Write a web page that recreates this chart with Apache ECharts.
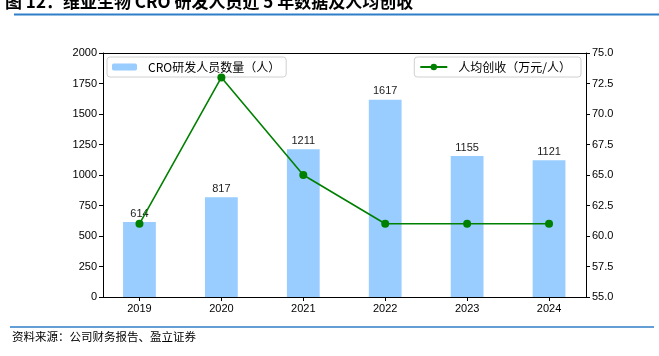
<!DOCTYPE html>
<html><head><meta charset="utf-8">
<script src="https://cdn.jsdelivr.net/npm/echarts@6/dist/echarts.min.js"></script>
<style>html,body{margin:0;padding:0;background:#fff;}#c{width:659px;height:356px;}</style>
</head><body><div id="c"></div>
<script>
const years = ['2019','2020','2021','2022','2023','2024'];
const staff = [614, 817, 1211, 1617, 1155, 1121];
const revenuePerCapita = [61.0, 73.0, 65.0, 61.0, 61.0, 61.0];
const leftTicks = {min: 0, max: 2000, interval: 250};
const rightTicks = {min: 55, max: 75, interval: 2.5};
const titleText = '图 12：维亚生物 CRO 研发人员近 5 年数据及人均创收';
const sourceText = '资料来源：公司财务报告、盈立证券';
const barName = 'CRO研发人员数量（人）';
const lineName = '人均创收（万元/人）';

const chart = echarts.init(document.getElementById('c'), null, {renderer: 'canvas'});
const cjk = '"Noto Sans CJK SC", "Liberation Sans", sans-serif';
const num = '"Liberation Sans", Arial, sans-serif';
const axisLine = {show: true, lineStyle: {color: '#000', width: 1}};
const frameGrid = {left: 103, right: 73, top: 53, bottom: 59};
const dataGrid = {left: 98.5, right: 69, top: 53, bottom: 59};

chart.setOption({
  animation: false,
  title: {text: titleText, left: 0, top: -12, textStyle: {fontFamily: cjk, fontSize: 17, fontWeight: 'bold', color: '#000'}},
  graphic: [
    {type: 'line', shape: {x1: 14, y1: 14.5, x2: 659, y2: 14.5}, style: {stroke: '#2F7FC8', lineWidth: 2}},
    {type: 'line', shape: {x1: 10, y1: 327, x2: 654, y2: 327}, style: {stroke: '#2F7FC8', lineWidth: 1.5}},
    {type: 'text', left: 12, top: 331, style: {text: sourceText, font: '11.5px "Noto Sans CJK SC"', fill: '#000'}}
  ],
  legend: [
    {data: [barName], left: 107, top: 57, padding: [4, 6, 4, 5], borderColor: '#d0d0d0', borderWidth: 1, borderRadius: 3,
     itemWidth: 25, itemHeight: 7, textStyle: {fontFamily: cjk, fontSize: 12, color: '#000', padding: [0, 0, 0, 6]}},
    {data: [lineName], right: 78, top: 57, padding: [4, 10, 4, 5], borderColor: '#d0d0d0', borderWidth: 1, borderRadius: 3,
     itemWidth: 27, itemHeight: 8, textStyle: {fontFamily: cjk, fontSize: 12, color: '#000', padding: [0, 0, 0, 6]}}
  ],
  grid: [frameGrid, dataGrid],
  xAxis: [
    {gridIndex: 0, type: 'category', data: years, position: 'bottom', axisLine: axisLine, axisTick: {show: false}, axisLabel: {show: false}, splitLine: {show: false}},
    {gridIndex: 0, type: 'category', data: years, position: 'top', axisLine: axisLine, axisTick: {show: false}, axisLabel: {show: false}, splitLine: {show: false}},
    {gridIndex: 1, type: 'category', data: years, position: 'bottom', boundaryGap: true,
     axisLine: {show: false}, axisTick: {show: true, alignWithLabel: true, length: 4, lineStyle: {color: '#000'}},
     axisLabel: {fontFamily: num, fontSize: 11, color: '#000', margin: 6}, splitLine: {show: false}}
  ],
  yAxis: [
    {gridIndex: 0, type: 'value', position: 'left', min: leftTicks.min, max: leftTicks.max, interval: leftTicks.interval,
     axisLine: axisLine, axisTick: {show: true, length: 4, lineStyle: {color: '#000'}}, splitLine: {show: false},
     axisLabel: {fontFamily: num, fontSize: 11, color: '#000', margin: 6, formatter: v => String(v)}},
    {gridIndex: 0, type: 'value', position: 'right', min: rightTicks.min, max: rightTicks.max, interval: rightTicks.interval,
     axisLine: axisLine, axisTick: {show: true, length: 4, lineStyle: {color: '#000'}}, splitLine: {show: false},
     axisLabel: {fontFamily: num, fontSize: 11, color: '#000', margin: 6, formatter: v => v.toFixed(1)}},
    {gridIndex: 1, type: 'value', min: leftTicks.min, max: leftTicks.max, show: false, splitLine: {show: false}},
    {gridIndex: 1, type: 'value', min: rightTicks.min, max: rightTicks.max, show: false, splitLine: {show: false}}
  ],
  series: [
    {name: barName, type: 'bar', xAxisIndex: 2, yAxisIndex: 2, data: staff, barWidth: '40%',
     itemStyle: {color: '#99CCFF'},
     label: {show: true, position: 'top', distance: 3, fontFamily: num, fontSize: 11, color: '#222'}},
    {name: lineName, type: 'line', xAxisIndex: 2, yAxisIndex: 3, data: revenuePerCapita,
     symbol: 'circle', symbolSize: 8, z: 5,
     lineStyle: {color: '#008000', width: 1.6}, itemStyle: {color: '#008000'}}
  ]
});
</script></body></html>
